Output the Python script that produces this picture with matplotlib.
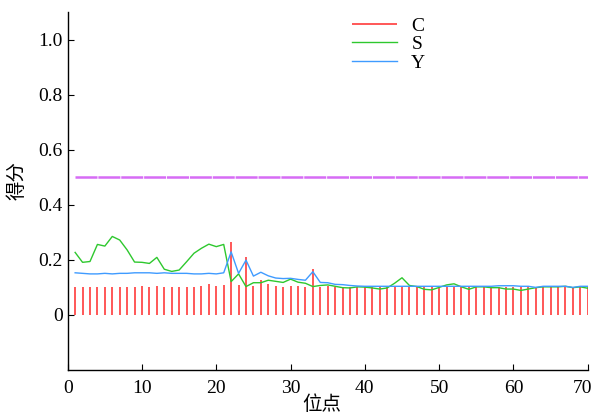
import matplotlib
matplotlib.use("Agg")
import matplotlib.pyplot as plt
import matplotlib.transforms as mtransforms
import numpy as np

positions = list(range(1, 71))

c_score = [0.103, 0.103, 0.103, 0.103, 0.103, 0.103, 0.103, 0.103, 0.103, 0.106,
           0.100, 0.106, 0.103, 0.100, 0.103, 0.103, 0.103, 0.106, 0.113, 0.106,
           0.108, 0.264, 0.107, 0.212, 0.105, 0.127, 0.113, 0.105, 0.102, 0.105,
           0.105, 0.102, 0.167, 0.100, 0.105, 0.102, 0.102, 0.102, 0.102, 0.102,
           0.102, 0.102, 0.102, 0.102, 0.102, 0.102, 0.100, 0.100, 0.100, 0.102,
           0.102, 0.102, 0.102, 0.100, 0.102, 0.102, 0.102, 0.102, 0.102, 0.102,
           0.100, 0.102, 0.102, 0.102, 0.102, 0.102, 0.102, 0.102, 0.102, 0.102]

s_score = [0.227, 0.191, 0.194, 0.256, 0.250, 0.285, 0.272, 0.236, 0.192, 0.191,
           0.187, 0.209, 0.166, 0.158, 0.163, 0.193, 0.224, 0.242, 0.257, 0.248,
           0.256, 0.121, 0.149, 0.103, 0.117, 0.117, 0.126, 0.122, 0.118, 0.130,
           0.119, 0.115, 0.103, 0.107, 0.109, 0.104, 0.099, 0.098, 0.102, 0.101,
           0.098, 0.094, 0.098, 0.115, 0.135, 0.107, 0.103, 0.093, 0.091, 0.100,
           0.109, 0.113, 0.102, 0.093, 0.102, 0.102, 0.099, 0.099, 0.094, 0.094,
           0.089, 0.094, 0.099, 0.102, 0.102, 0.102, 0.104, 0.099, 0.102, 0.097]

y_score = [0.153, 0.151, 0.149, 0.149, 0.151, 0.149, 0.151, 0.151, 0.153, 0.153,
           0.153, 0.151, 0.153, 0.151, 0.151, 0.151, 0.149, 0.149, 0.151, 0.149,
           0.153, 0.229, 0.151, 0.199, 0.141, 0.155, 0.142, 0.134, 0.132, 0.133,
           0.129, 0.126, 0.157, 0.118, 0.117, 0.111, 0.110, 0.107, 0.105, 0.104,
           0.104, 0.104, 0.104, 0.104, 0.104, 0.104, 0.104, 0.104, 0.104, 0.104,
           0.104, 0.104, 0.104, 0.104, 0.104, 0.104, 0.104, 0.106, 0.106, 0.106,
           0.104, 0.104, 0.100, 0.104, 0.104, 0.104, 0.104, 0.100, 0.104, 0.104]

threshold = 0.5
x_ticks = [0, 10, 20, 30, 40, 50, 60, 70]
y_ticks = [0, 0.2, 0.4, 0.6, 0.8, 1.0]
y_tick_labels = ["0", "0.2", "0.4", "0.6", "0.8", "1.0"]

plt.rcParams['font.family'] = ['Liberation Serif', 'Noto Sans CJK SC']

fig = plt.figure(figsize=(5.96, 4.19), dpi=100)
ax = fig.add_axes([0.1136, 0.1169, 0.8725, 0.8545])

red = '#ff2a2a'
green = '#2ec82e'
blue = '#3f9bff'
purple = '#d66cf5'

ax.vlines(positions, 0, c_score, colors=red, linewidth=1.1, label='C')
ax.plot(positions, s_score, color=green, linewidth=1.0, label='S')
ax.plot(positions, y_score, color=blue, linewidth=1.0, label='Y')
ax.plot([positions[0], positions[-1]], [threshold, threshold], color=purple,
        linewidth=1.8, dashes=(8.8, 0.35))

ax.set_xlim(0, 70)
ax.set_ylim(-0.2, 1.1)
ax.set_xticks(x_ticks)
ax.set_xticklabels([str(t) for t in x_ticks])
ax.set_yticks(y_ticks)
ax.set_yticklabels(y_tick_labels)
ax.tick_params(direction='in', length=4, labelsize=14, width=0.8)
ax.tick_params(axis='x', pad=7)
for s in ['top', 'right']:
    ax.spines[s].set_visible(False)
for s in ['left', 'bottom']:
    ax.spines[s].set_linewidth(1.0)

# keep the last x tick label inside the figure like the reference
last = ax.get_xticklabels()[-1]
last.set_transform(last.get_transform() +
                   mtransforms.ScaledTranslation(-5 / 100, 0, fig.dpi_scale_trans))

ax.set_xlabel('位点', fontsize=14, family=['Noto Sans CJK SC'])
ax.set_ylabel('得分', fontsize=14, family=['Noto Sans CJK SC'])
ax.xaxis.set_label_coords(0.489, -0.068)
ax.yaxis.set_label_coords(-0.078, 0.53)

leg = ax.legend(loc='upper left', bbox_to_anchor=(0.513, 1.035), frameon=False,
                fontsize=14, handlelength=2.3, handletextpad=0.75,
                labelspacing=0.05)

fig.savefig('out.png', dpi=100)
